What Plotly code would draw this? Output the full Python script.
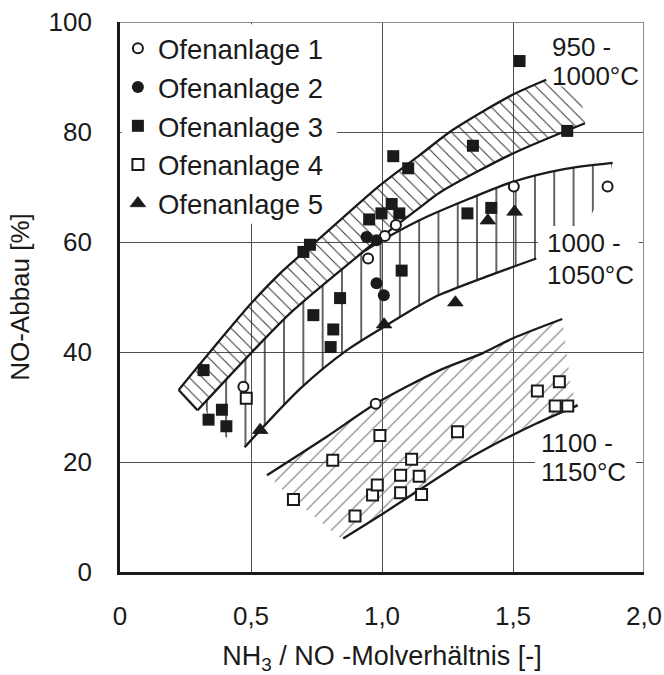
import plotly.graph_objects as go

# ---------------- data ----------------
o1_x = [0.471, 0.947, 0.976, 1.011, 1.053, 1.503, 1.861]
o1_y = [33.7, 57.0, 30.6, 61.1, 63.1, 70.1, 70.1]

o2_x = [0.941, 0.979, 0.979, 1.007]
o2_y = [60.9, 60.3, 52.5, 50.3]

o3_x = [0.319, 0.338, 0.389, 0.406, 0.700, 0.725, 0.738, 0.804, 0.814, 0.840, 0.951,
        0.998, 1.037, 1.043, 1.066, 1.075, 1.100, 1.326, 1.347, 1.417, 1.525, 1.707]
o3_y = [36.7, 27.7, 29.5, 26.5, 58.2, 59.5, 46.7, 40.9, 44.1, 49.8, 64.1,
        65.2, 66.9, 75.6, 65.2, 54.8, 73.4, 65.2, 77.5, 66.2, 92.9, 80.2]

o4_x = [0.482, 0.662, 0.812, 0.897, 0.964, 0.982, 0.992, 1.071, 1.071, 1.113, 1.142,
        1.151, 1.288, 1.593, 1.661, 1.677, 1.709]
o4_y = [31.6, 13.2, 20.3, 10.2, 14.0, 15.8, 24.8, 17.6, 14.4, 20.5, 17.4,
        14.1, 25.5, 32.9, 30.2, 34.6, 30.2]

o5_x = [0.535, 1.008, 1.280, 1.404, 1.506]
o5_y = [25.8, 45.0, 49.0, 63.9, 65.5]

# band 950-1000 °C
b1_up_x = [0.224, 0.5, 0.611, 0.763, 0.992, 1.144, 1.271, 1.5, 1.627]
b1_up_y = [33.1, 48.8, 54.3, 60.7, 70.3, 75.8, 80.4, 86.8, 89.5]
b1_lo_x = [0.296, 0.5, 0.662, 0.935, 1.0, 1.145, 1.221, 1.5, 1.775]
b1_lo_y = [29.4, 39.8, 47.6, 58.5, 61.0, 66.3, 69.0, 76.1, 81.6]
b1_end_x = [1.70, 1.765]
b1_end_y = [88.0, 84.8]

# band 1000-1050 °C
b2_up_x = [0.935, 1.0, 1.145, 1.335, 1.503, 1.70, 1.88]
b2_up_y = [58.4, 60.3, 64.0, 67.9, 71.0, 73.3, 74.4]
b2_lo_x = [0.476, 0.687, 0.865, 1.008, 1.144, 1.22, 1.398, 1.589]
b2_lo_y = [22.7, 33.3, 40.3, 44.6, 48.5, 50.4, 53.7, 57.0]
b2_end_x = [1.872, 1.80]
b2_end_y = [72.6, 65.0]
b2_start_x = [0.404, 0.338, 0.32]
b2_start_y = [24.5, 28.0, 30.6]

# band 1100-1150 °C
b3_up_x = [0.561, 0.789, 0.976, 1.221, 1.385, 1.5, 1.688]
b3_up_y = [17.6, 24.6, 30.6, 36.7, 39.8, 42.5, 46.0]
b3_lo_x = [0.852, 1.0, 1.297, 1.385, 1.589, 1.747]
b3_lo_y = [6.1, 10.5, 19.7, 22.1, 27.0, 30.3]
b3_end_x = [1.705, 1.72]
b3_end_y = [40.0, 34.0]
b3_start_x = [0.833, 0.59, 0.60]
b3_start_y = [6.4, 16.2, 18.7]

x_ticks = [0, 0.5, 1.0, 1.5, 2.0]
x_ticktext = ["0", "0,5", "1,0", "1,5", "2,0"]
y_ticks = [0, 20, 40, 60, 80, 100]

FONT = "Liberation Sans, Arial, sans-serif"
INK = "#1a1a1a"

fig = go.Figure()

# ---------------- hatched areas ----------------
def poly(xs, ys):
    return xs + xs[:1], ys + ys[:1]

p1x = b1_up_x + b1_end_x + b1_lo_x[::-1]
p1y = b1_up_y + b1_end_y + b1_lo_y[::-1]
top2 = [(x, y) for x, y in zip(b1_lo_x, b1_lo_y) if 0.32 < x <= 0.935]
p2x = [b2_start_x[-1]] + [t[0] for t in top2] + b2_up_x[1:] + b2_end_x + b2_lo_x[::-1] + b2_start_x[:2]
p2y = [b2_start_y[-1]] + [t[1] for t in top2] + b2_up_y[1:] + b2_end_y + b2_lo_y[::-1] + b2_start_y[:2]
up3 = [(x, y) for x, y in zip(b3_up_x, b3_up_y) if x > 0.6]
p3x = b3_start_x[1:] + [t[0] for t in up3] + b3_end_x + b3_lo_x[::-1] + b3_start_x[:1]
p3y = b3_start_y[1:] + [t[1] for t in up3] + b3_end_y + b3_lo_y[::-1] + b3_start_y[:1]

for (px, py), shape, size, sol, col in [
    ((p1x, p1y), "\\", 9.2, 0.11, "#333333"),
    ((p2x, p2y), "|", 19.3, 0.075, "#2a2a2a"),
    ((p3x, p3y), "/", 10.6, 0.095, "#707070"),
]:
    xx, yy = poly(px, py)
    fig.add_trace(go.Scatter(
        x=xx, y=yy, mode="lines", fill="toself",
        line=dict(width=0, color="rgba(0,0,0,0)"),
        fillcolor="rgba(0,0,0,0)",
        fillpattern=dict(shape=shape, size=size, solidity=sol, fgcolor=col,
                         bgcolor="rgba(0,0,0,0)", fillmode="replace"),
        showlegend=False, hoverinfo="skip"))

# ---------------- band boundary curves ----------------
curves = [
    (b1_up_x, b1_up_y),
    (b1_lo_x, b1_lo_y),
    (b2_up_x, b2_up_y),
    (b2_lo_x, b2_lo_y),
    (b3_up_x, b3_up_y),
    (b3_lo_x, b3_lo_y),
]
for cx, cy in curves:
    fig.add_trace(go.Scatter(x=cx, y=cy, mode="lines",
                             line=dict(color=INK, width=2.3, shape="spline", smoothing=0.8),
                             showlegend=False, hoverinfo="skip"))
# closed left end of the 950-1000 °C band
fig.add_trace(go.Scatter(x=[b1_up_x[0], b1_lo_x[0]], y=[b1_up_y[0], b1_lo_y[0]],
                         mode="lines", line=dict(color=INK, width=2.3),
                         showlegend=False, hoverinfo="skip"))

# ---------------- data series ----------------
series = [
    ("Ofenanlage 1", o1_x, o1_y, dict(symbol="circle", size=10, color="white",
                                      line=dict(color=INK, width=2))),
    ("Ofenanlage 2", o2_x, o2_y, dict(symbol="circle", size=12, color=INK,
                                      line=dict(width=0))),
    ("Ofenanlage 3", o3_x, o3_y, dict(symbol="square", size=12, color=INK,
                                      line=dict(width=0))),
    ("Ofenanlage 4", o4_x, o4_y, dict(symbol="square", size=11, color="white",
                                      line=dict(color=INK, width=2))),
    ("Ofenanlage 5", o5_x, o5_y, dict(symbol="triangle-up", size=13.5, color=INK,
                                      line=dict(color=INK, width=0.8))),
]
for name, sx, sy, mk in series:
    fig.add_trace(go.Scatter(x=sx, y=sy, mode="markers", name=name, marker=mk,
                             legendgroup=name))

# ---------------- shapes (label backgrounds, frame) ----------------
shapes = [
    dict(type="rect", xref="x", yref="y", x0=0.006, x1=0.828, y0=63.3, y1=99.6,
         fillcolor="white", line=dict(width=0), layer="between"),
    dict(type="rect", xref="x", yref="y", x0=1.584, x1=1.969, y0=15.8, y1=25.8,
         fillcolor="white", line=dict(width=0), layer="between"),
    dict(type="rect", xref="x", yref="y", x0=1.595, x1=1.98, y0=51.0, y1=62.9,
         fillcolor="white", line=dict(width=0), layer="above"),
    dict(type="line", xref="x", yref="y", x0=0, x1=2.0, y0=100, y1=100,
         line=dict(color="#8c8c8c", width=2), layer="above"),
    dict(type="line", xref="x", yref="y", x0=2.0, x1=2.0, y0=0, y1=100,
         line=dict(color="#8c8c8c", width=2), layer="above"),
]

# ---------------- labels ----------------
lab_font = dict(family=FONT, size=26, color=INK)
labels = [
    ("950 -", 1.642, 95.5), ("1000°C", 1.642, 90.2),
    ("1000 -", 1.622, 59.8), ("1050°C", 1.622, 54.0),
    ("1100 -", 1.600, 23.4), ("1150°C", 1.600, 18.2),
]
annotations = []
for txt, ax_, ay_ in labels:
    annotations.append(dict(text=txt, x=ax_, y=ay_, xref="x", yref="y",
                            xanchor="left", yanchor="middle", showarrow=False,
                            font=lab_font))

fig.update_layout(
    width=664, height=675,
    margin=dict(l=120, r=20, t=22, b=103, autoexpand=False),
    paper_bgcolor="white", plot_bgcolor="white",
    font=dict(family=FONT, size=26, color=INK),
    shapes=shapes,
    annotations=annotations,
    legend=dict(x=-0.004, y=0.9965, xanchor="left", yanchor="top",
                bgcolor="rgba(0,0,0,0)", borderwidth=0,
                font=dict(family=FONT, size=27.5, color=INK),
                traceorder="grouped", tracegroupgap=0, itemclick=False),
    showlegend=True,
)
fig.update_xaxes(range=[0, 2.0], tickvals=x_ticks, ticktext=x_ticktext,
                 automargin=False,
                 showgrid=True, gridcolor="#505050", gridwidth=1.2,
                 showline=True, linecolor=INK, linewidth=2.6, mirror=False,
                 zeroline=False, ticks="", ticklabelstandoff=19,
                 tickfont=dict(family=FONT, size=26, color=INK),
                 title=dict(text="NH<sub>3</sub> / NO -Molverhältnis [-]",
                            font=dict(family=FONT, size=27, color=INK), standoff=37))
fig.update_yaxes(range=[0, 100], tickvals=y_ticks,
                 automargin=False,
                 showgrid=True, gridcolor="#505050", gridwidth=1.2,
                 showline=True, linecolor=INK, linewidth=2.6, mirror=False,
                 zeroline=False, ticks="", ticklabelstandoff=20,
                 tickfont=dict(family=FONT, size=26, color=INK),
                 title=dict(text="NO-Abbau [%]",
                            font=dict(family=FONT, size=26, color=INK), standoff=12))

fig.write_html("out.html")
